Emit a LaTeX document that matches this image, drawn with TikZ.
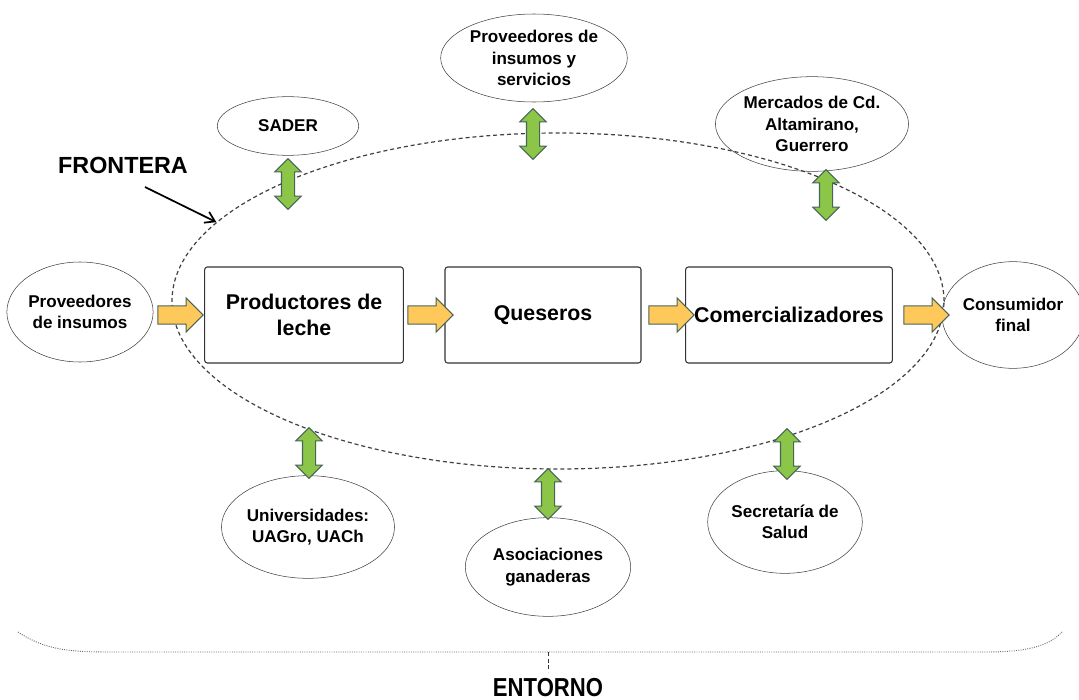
\documentclass[tikz,border=0pt]{standalone}
\usepackage{fontspec}
\setmainfont{Liberation Sans}
\usepackage{xcolor}
\usepackage{tikz}
\usetikzlibrary{arrows.meta}
\usetikzlibrary{shapes.geometric,shapes.arrows}

\definecolor{naranja}{RGB}{255,200,90}
\definecolor{verde}{RGB}{140,198,72}
\definecolor{borde}{RGB}{72,100,90}

\begin{document}
\begin{tikzpicture}[x=0.75pt, y=-0.75pt,
    caja/.style={draw=black!80, thick, rounded corners=2pt, minimum height=72pt,
                 align=center, font=\fontsize{16}{20}\selectfont\bfseries},
    elip/.style={ellipse, draw=black!75, inner sep=0pt, align=center,
                 font=\fontsize{12.8}{16}\selectfont\bfseries},
    fl/.style={single arrow, draw=borde, fill=naranja, thick, inner xsep=0pt, inner ysep=6.4pt,
               minimum height=34pt, minimum width=25pt, single arrow head extend=6pt},
    dfl/.style={double arrow, draw=borde, fill=verde, thick, inner xsep=0pt, inner ysep=4.5pt,
                rotate=90, minimum height=38pt, minimum width=19pt, double arrow head extend=5pt},
    tit/.style={font=\fontsize{17.5}{20}\selectfont\bfseries}]
  \useasboundingbox (0,0) rectangle (1079,700);
  % frontera del sistema
  \node[ellipse, draw=black!75, line width=0.9pt, dash pattern=on 3pt off 2.2pt,
        minimum width=579pt, minimum height=252pt] (limite) at (558,301) {};
  % eslabones de la cadena
  \node[caja, minimum width=149pt] (prod) at (304,315) {Productores de\\leche};
  \node[caja, minimum width=147pt] (ques) at (543,315) {Queseros};
  \node[caja, minimum width=155pt] (come) at (789,315) {Comercializadores};
  % actores del entorno
  \node[elip, minimum width=105pt, minimum height=75pt] (provins) at (80,312) {Proveedores\\de insumos};
  \node[elip, minimum width=99pt, minimum height=80pt] (consu) at (1013,315) {Consumidor\\final};
  \node[elip, minimum width=106pt, minimum height=44pt] (sader) at (288,126) {SADER};
  \node[elip, minimum width=140pt, minimum height=66pt] (provser) at (534,58) {Proveedores de\\insumos y\\servicios};
  \node[elip, minimum width=130pt, minimum height=71pt] (merc) at (812,124) {Mercados de Cd.\\Altamirano,\\Guerrero};
  \node[elip, minimum width=123pt, minimum height=77pt] (univ) at (308,527) {Universidades:\\UAGro, UACh};
  \node[elip, minimum width=124pt, minimum height=74pt] (asoc) at (548,567) {Asociaciones\\ganaderas};
  \node[elip, minimum width=116pt, minimum height=77pt] (salud) at (785,522) {Secretaría de\\Salud};
  % flujo del producto
  \foreach \x [count=\i] in {176,426,667,922}
    \node[fl] (f\i) at (\x,315) {};
  % relaciones con el entorno
  \foreach \x/\y [count=\i] in {288/184, 533/134, 826/195, 309/453, 548/494, 787/454}
    \node[dfl] (d\i) at (\x,\y) {};
  % etiquetas
  \node[tit] (lblfront) at (123,165) {FRONTERA};
  \draw[line width=1.3pt, -{Straight Barb[length=7pt,width=9pt]}]
    (145,187) -- (limite.167);
  \coordinate (ll) at (18,632);
  \coordinate (lr) at (1062,632);
  \coordinate (lm) at (548,652);
  \coordinate (lb) at (548,672);
  \node[anchor=base, font=\fontsize{19.5}{22}\selectfont\bfseries, xscale=0.85] (lblent) at (548,696) {ENTORNO};
  \draw[black!60, densely dotted, line width=0.7pt] (ll) .. controls (45,650) and (70,652) .. (110,652)
    -- (986,652) .. controls (1030,652) and (1050,645) .. (lr);
  \draw[black!80, densely dashed, thin] (lm) -- (lb);
\end{tikzpicture}
\end{document}
